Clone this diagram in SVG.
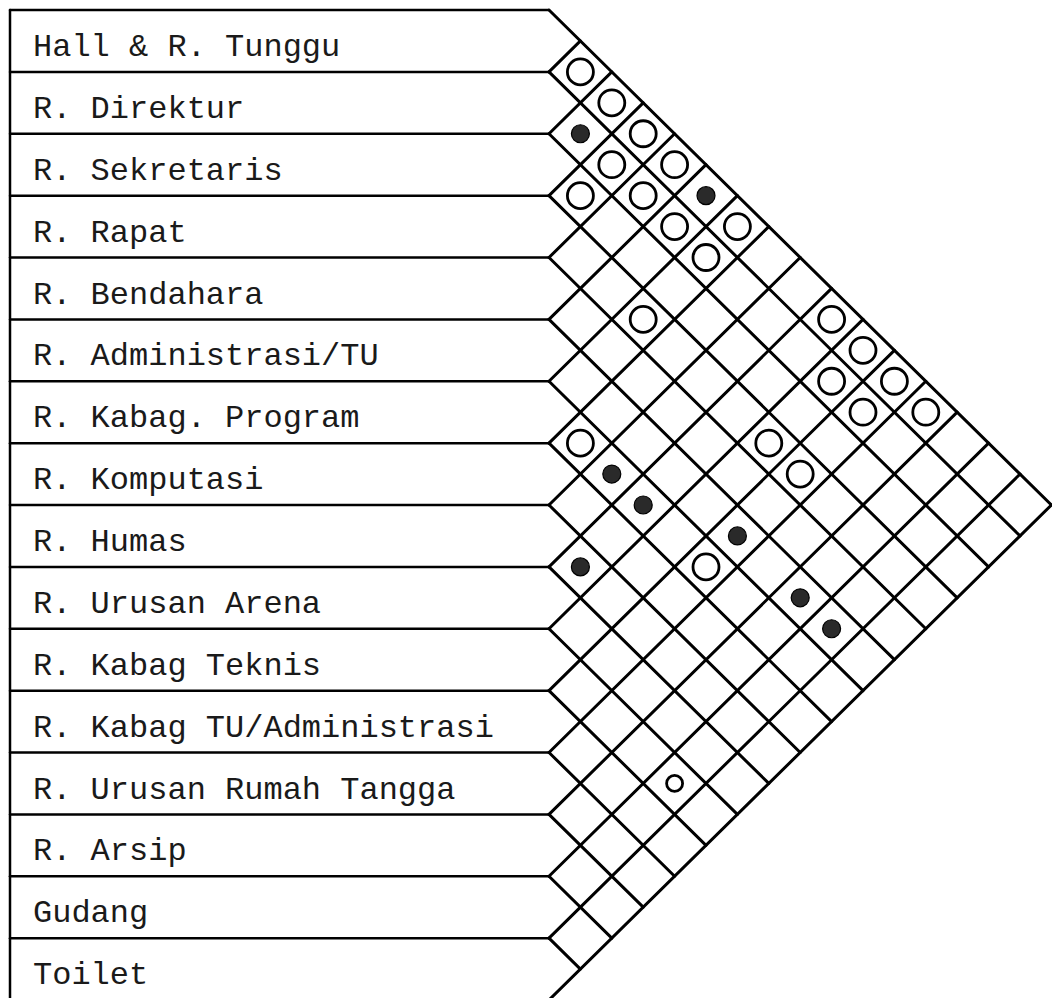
<svg xmlns="http://www.w3.org/2000/svg" width="1052" height="998" viewBox="0 0 1052 998">
<style>
.lbl{font-family:"Liberation Mono","DejaVu Sans Mono",monospace;font-size:32px;fill:#1a1a1a}
.fr{stroke:#000;stroke-width:2.5;fill:none;stroke-linecap:round}
.gr{stroke:#000;stroke-width:3;fill:none;stroke-linecap:round}
.op{fill:none;stroke:#000;stroke-width:2.8}
.fi{fill:#2a2a2a;stroke:#000;stroke-width:1.2}
</style>
<rect width="1052" height="998" fill="#fff"/>
<g id="frame" class="fr">
<line x1="10" y1="10" x2="10" y2="1000"/>
<line x1="10" y1="10" x2="549" y2="10"/>
<line x1="10" y1="71.875" x2="549" y2="71.875"/>
<line x1="10" y1="133.75" x2="549" y2="133.75"/>
<line x1="10" y1="195.625" x2="549" y2="195.625"/>
<line x1="10" y1="257.5" x2="549" y2="257.5"/>
<line x1="10" y1="319.375" x2="549" y2="319.375"/>
<line x1="10" y1="381.25" x2="549" y2="381.25"/>
<line x1="10" y1="443.125" x2="549" y2="443.125"/>
<line x1="10" y1="505" x2="549" y2="505"/>
<line x1="10" y1="566.875" x2="549" y2="566.875"/>
<line x1="10" y1="628.75" x2="549" y2="628.75"/>
<line x1="10" y1="690.625" x2="549" y2="690.625"/>
<line x1="10" y1="752.5" x2="549" y2="752.5"/>
<line x1="10" y1="814.375" x2="549" y2="814.375"/>
<line x1="10" y1="876.25" x2="549" y2="876.25"/>
<line x1="10" y1="938.125" x2="549" y2="938.125"/>
<line x1="10" y1="1000" x2="549" y2="1000"/>
</g>
<g id="row-hall"><text class="lbl" x="33" y="56">Hall &amp; R. Tunggu</text></g>
<g id="row-direktur"><text class="lbl" x="33" y="117.9">R. Direktur</text></g>
<g id="row-sekretaris"><text class="lbl" x="33" y="179.8">R. Sekretaris</text></g>
<g id="row-rapat"><text class="lbl" x="33" y="241.6">R. Rapat</text></g>
<g id="row-bendahara"><text class="lbl" x="33" y="303.5">R. Bendahara</text></g>
<g id="row-administrasi"><text class="lbl" x="33" y="365.4">R. Administrasi/TU</text></g>
<g id="row-kabag-program"><text class="lbl" x="33" y="427.3">R. Kabag. Program</text></g>
<g id="row-komputasi"><text class="lbl" x="33" y="489.1">R. Komputasi</text></g>
<g id="row-humas"><text class="lbl" x="33" y="551">R. Humas</text></g>
<g id="row-urusan-arena"><text class="lbl" x="33" y="612.9">R. Urusan Arena</text></g>
<g id="row-kabag-teknis"><text class="lbl" x="33" y="674.8">R. Kabag Teknis</text></g>
<g id="row-kabag-tu"><text class="lbl" x="33" y="736.6">R. Kabag TU/Administrasi</text></g>
<g id="row-rumah-tangga"><text class="lbl" x="33" y="798.5">R. Urusan Rumah Tangga</text></g>
<g id="row-arsip"><text class="lbl" x="33" y="860.4">R. Arsip</text></g>
<g id="row-gudang"><text class="lbl" x="33" y="922.3">Gudang</text></g>
<g id="row-toilet"><text class="lbl" x="33" y="984.1">Toilet</text></g>
<g id="connectors" class="gr">
<line x1="549" y1="10" x2="1051.4" y2="505"/>
<line x1="549" y1="71.875" x2="1020" y2="535.94"/>
<line x1="549" y1="133.75" x2="988.6" y2="566.875"/>
<line x1="549" y1="195.625" x2="957.2" y2="597.81"/>
<line x1="549" y1="257.5" x2="925.8" y2="628.75"/>
<line x1="549" y1="319.375" x2="894.4" y2="659.69"/>
<line x1="549" y1="381.25" x2="863" y2="690.625"/>
<line x1="549" y1="443.125" x2="831.6" y2="721.56"/>
<line x1="549" y1="505" x2="800.2" y2="752.5"/>
<line x1="549" y1="566.875" x2="768.8" y2="783.44"/>
<line x1="549" y1="628.75" x2="737.4" y2="814.375"/>
<line x1="549" y1="690.625" x2="706" y2="845.31"/>
<line x1="549" y1="752.5" x2="674.6" y2="876.25"/>
<line x1="549" y1="814.375" x2="643.2" y2="907.19"/>
<line x1="549" y1="876.25" x2="611.8" y2="938.125"/>
<line x1="549" y1="938.125" x2="580.4" y2="969.06"/>
<line x1="549" y1="71.875" x2="580.4" y2="40.94"/>
<line x1="549" y1="133.75" x2="611.8" y2="71.875"/>
<line x1="549" y1="195.625" x2="643.2" y2="102.81"/>
<line x1="549" y1="257.5" x2="674.6" y2="133.75"/>
<line x1="549" y1="319.375" x2="706" y2="164.69"/>
<line x1="549" y1="381.25" x2="737.4" y2="195.625"/>
<line x1="549" y1="443.125" x2="768.8" y2="226.56"/>
<line x1="549" y1="505" x2="800.2" y2="257.5"/>
<line x1="549" y1="566.875" x2="831.6" y2="288.44"/>
<line x1="549" y1="628.75" x2="863" y2="319.375"/>
<line x1="549" y1="690.625" x2="894.4" y2="350.31"/>
<line x1="549" y1="752.5" x2="925.8" y2="381.25"/>
<line x1="549" y1="814.375" x2="957.2" y2="412.19"/>
<line x1="549" y1="876.25" x2="988.6" y2="443.125"/>
<line x1="549" y1="938.125" x2="1020" y2="474.06"/>
<line x1="549" y1="1000" x2="1051.4" y2="505"/>
</g>
<g id="marks">
<circle class="op" cx="580.4" cy="71.875" r="13"/>
<circle class="op" cx="611.8" cy="102.81" r="13"/>
<circle class="fi" cx="580.4" cy="133.75" r="9"/>
<circle class="op" cx="643.2" cy="133.75" r="13"/>
<circle class="op" cx="611.8" cy="164.69" r="13"/>
<circle class="op" cx="674.6" cy="164.69" r="13"/>
<circle class="op" cx="580.4" cy="195.625" r="13"/>
<circle class="op" cx="643.2" cy="195.625" r="13"/>
<circle class="fi" cx="706" cy="195.625" r="9"/>
<circle class="op" cx="674.6" cy="226.56" r="13"/>
<circle class="op" cx="737.4" cy="226.56" r="13"/>
<circle class="op" cx="706" cy="257.5" r="13"/>
<circle class="op" cx="643.2" cy="319.375" r="13"/>
<circle class="op" cx="831.6" cy="319.375" r="13"/>
<circle class="op" cx="863" cy="350.31" r="13"/>
<circle class="op" cx="831.6" cy="381.25" r="13"/>
<circle class="op" cx="894.4" cy="381.25" r="13"/>
<circle class="op" cx="863" cy="412.19" r="13"/>
<circle class="op" cx="925.8" cy="412.19" r="13"/>
<circle class="op" cx="580.4" cy="443.125" r="13"/>
<circle class="op" cx="768.8" cy="443.125" r="13"/>
<circle class="fi" cx="611.8" cy="474.06" r="9"/>
<circle class="op" cx="800.2" cy="474.06" r="13"/>
<circle class="fi" cx="643.2" cy="505" r="9"/>
<circle class="fi" cx="737.4" cy="535.94" r="9"/>
<circle class="fi" cx="580.4" cy="566.875" r="9"/>
<circle class="op" cx="706" cy="566.875" r="13"/>
<circle class="fi" cx="800.2" cy="597.81" r="9"/>
<circle class="fi" cx="831.6" cy="628.75" r="9"/>
<circle class="op" cx="674.6" cy="783.44" r="8"/>
</g>
</svg>
